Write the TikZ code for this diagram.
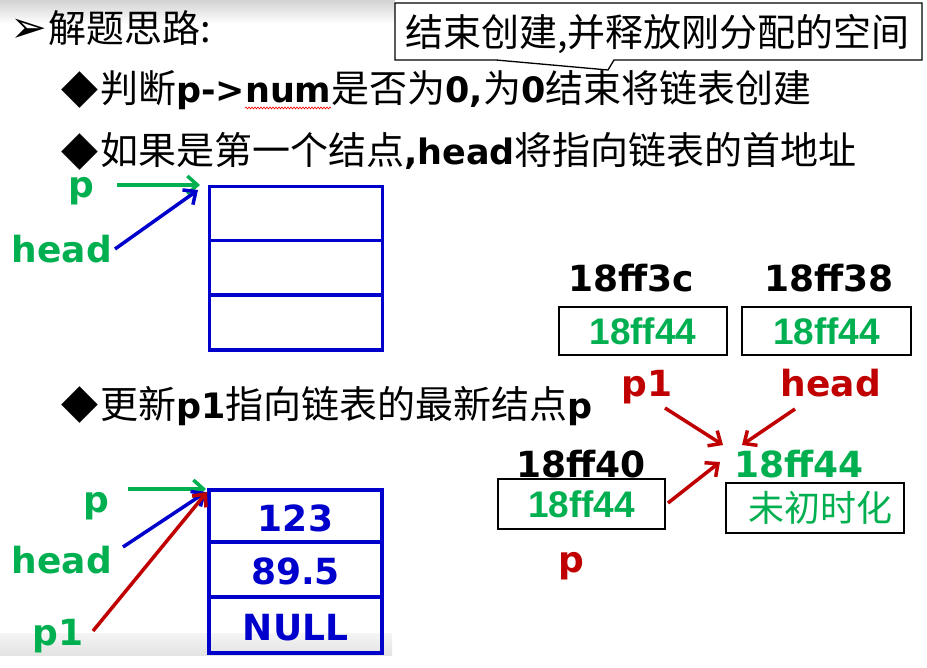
\documentclass[tikz,border=0pt]{standalone}
\usepackage{fontspec}
\usetikzlibrary{arrows.meta,decorations.pathmorphing}
\newfontfamily\cjk{Noto Sans CJK SC}
\newfontfamily\vb{DejaVu Sans}
\newfontfamily\ab{Liberation Sans}
\definecolor{mygreen}{RGB}{0,176,80}
\definecolor{myblue}{RGB}{0,0,204}
\definecolor{myred}{RGB}{192,0,0}
\newcommand\B[1]{{\vb\bfseries\fontsize{35pt}{40pt}\selectfont #1}}
\begin{document}
\begin{tikzpicture}[x=1pt,y=-1pt,
  txt/.style={anchor=base west, inner sep=0pt, font=\cjk\fontsize{38pt}{44pt}\selectfont},
  dia/.style={anchor=center, inner sep=0pt, font=\vb\fontsize{48pt}{50pt}\selectfont},
  bigb/.style={anchor=base, inner sep=0pt, font=\vb\bfseries\fontsize{36pt}{40pt}\selectfont},
  glab/.style={bigb, text=mygreen},
  rlab/.style={bigb, text=myred},
  klab/.style={bigb, text=black},
  cell/.style={draw=myblue, line width=3.5pt, minimum width=173pt, minimum height=54.5pt, inner sep=0pt,
    text=myblue, font=\vb\bfseries\fontsize{36pt}{40pt}\selectfont, text height=31pt, text depth=0pt},
  mbox/.style={draw=black, line width=1.4pt, inner sep=0pt, minimum height=48pt, text=mygreen,
    font=\ab\bfseries\fontsize{37pt}{40pt}\selectfont},
  tip/.style={-{Straight Barb[length=10pt,width=18pt]}},
  garrow/.style={draw=mygreen, line width=3.5pt, tip},
  barrow/.style={draw=myblue, line width=3.5pt, tip},
  rarrow/.style={draw=myred, line width=3.5pt, tip}]
\useasboundingbox (0,0) rectangle (927,668);
\fill[white] (0,0) rectangle (927,668);
% slide background bands
\shade[top color=gray!35, bottom color=white] (0,0) rectangle (395,24);
\shade[top color=gray!8, bottom color=gray!22] (0,633) rectangle (392,655);

% title
\node[inner sep=0pt, font=\vb\fontsize{44pt}{44pt}\selectfont] (bul0) at (29,31) {➢};
\node[txt] (title) at (48,43) {解题思路:};

% callout
\draw[line width=1.3pt, fill=white] (395,3) -- (922,3) -- (922,60) -- (614,60) -- (608,70) -- (496,60) -- (395,60) -- cycle;
\node[txt] (callout) at (405,47) {结束创建,并释放刚分配的空间};

% bullet lines
\node[dia] (d1) at (80,90) {◆};
\node[txt] (l1) at (100,103) {判断\B{p->num}是否为\B{0,}为\B{0}结束将链表创建};
\draw[red, line width=0.6pt, decorate, decoration={snake, amplitude=1pt, segment length=3pt}] (245,108) -- (331,108);

\node[dia] (d2) at (80,152) {◆};
\node[txt] (l2) at (100,165) {如果是第一个结点\B{,head}将指向链表的首地址};

\node[dia] (d3) at (80,405) {◆};
\node[txt] (l3) at (100,418) {更新\B{p1}指向链表的最新结点\B{p}};

% first node (empty)
\node[cell, minimum height=54pt] (a1) at (296,213.7) {};
\node[cell, minimum height=54.3pt] (a2) at (296,267.9) {};
\node[cell, minimum height=55pt] (a3) at (296,322.5) {};
\node[glab] (pA) at (81,198) {p};
\node[glab] (hA) at (62,263) {head};
\coordinate (pAs) at (117,185);
\coordinate (pAe) at (200,185);
\coordinate (hAs) at (115,249);
\coordinate (hAe) at (198,190);
\draw[garrow] (pAs) -- (pAe);
\draw[barrow] (hAs) -- (hAe);

% second node (filled)
\node[cell, minimum height=51.7pt] (b1) at (295.5,515.9) {123};
\node[cell, minimum height=55.3pt] (b2) at (295.5,569.4) {89.5};
\node[cell, minimum height=55.7pt] (b3) at (295.5,624.9) {NULL};
\node[glab] (pB) at (96,512) {p};
\node[glab] (hB) at (62,573) {head};
\node[glab] (p1B) at (58,645) {p1};
\coordinate (pBs) at (128,489);
\coordinate (pBe) at (206,489);
\coordinate (hBs) at (123,547);
\coordinate (hBe) at (206,492);
\coordinate (p1Bs) at (93,631);
\coordinate (p1Be) at (207,492);
\draw[garrow] (pBs) -- (pBe);
\draw[barrow] (hBs) -- (hBe);
\draw[rarrow] (p1Bs) -- (p1Be);

% memory view
\node[klab] (ad1) at (631,292) {18ff3c};
\node[klab] (ad2) at (829,292) {18ff38};
\node[mbox, minimum width=168pt] (m1) at (643,331) {18ff44};
\node[mbox, minimum width=169pt] (m2) at (826.5,331) {18ff44};
\node[rlab] (rp1) at (647,397) {p1};
\node[rlab] (rhead) at (831,397) {head};
\node[klab] (ad3) at (581,477) {18ff40};
\node[mbox, minimum width=167pt, minimum height=50pt, fill=white] (m3) at (581.5,504) {18ff44};
\node[glab] (g44) at (799,477) {18ff44};
\node[mbox, minimum width=178pt, minimum height=50pt, font=\cjk\fontsize{36pt}{40pt}\selectfont] (m4) at (815,508) {\hspace{10pt}未初时化};
\node[rlab] (rp) at (571,572) {p};
\coordinate (r1s) at (665,408);
\coordinate (r1e) at (723,445);
\coordinate (r2s) at (795,409);
\coordinate (r2e) at (742,445);
\coordinate (r3s) at (668,503);
\coordinate (r3e) at (720,462);
\draw[rarrow] (r1s) -- (r1e);
\draw[rarrow] (r2s) -- (r2e);
\draw[rarrow] (r3s) -- (r3e);
\end{tikzpicture}
\end{document}
